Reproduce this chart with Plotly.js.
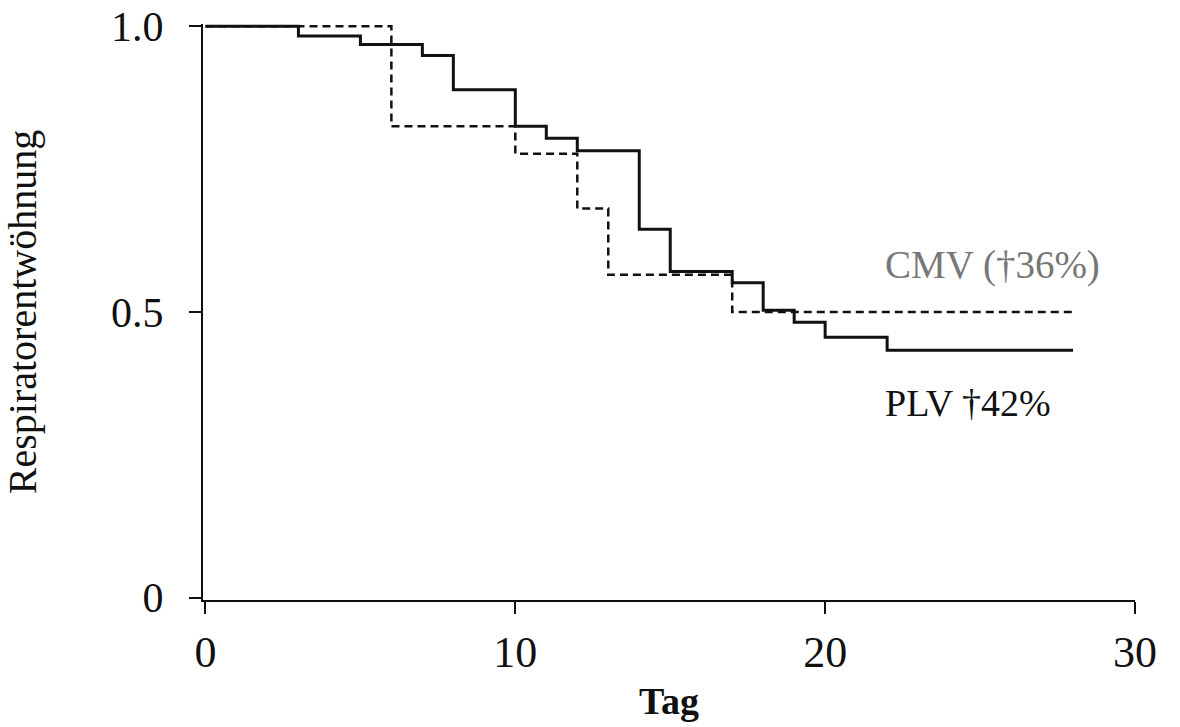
<!DOCTYPE html>
<html>
<head>
<meta charset="utf-8">
<script src="https://cdn.plot.ly/plotly-3.0.1.min.js"></script>
<style>
  html, body { margin: 0; padding: 0; background: #fff; }
  #chart { width: 1180px; height: 727px; }
</style>
</head>
<body>
<div id="chart"></div>
<script>
// Kaplan-Meier style weaning curves (fraction still ventilated over days)
const plvDays = [0, 3, 5, 7, 8, 10, 11, 12, 14, 15, 17, 18, 19, 20, 22, 28];
const plvSurv = [1.0, 0.983, 0.968, 0.949, 0.889, 0.825, 0.804, 0.782, 0.645, 0.571, 0.551, 0.503, 0.482, 0.456, 0.433, 0.433];

const cmvDays = [0, 6, 10, 12, 13, 17, 28];
const cmvSurv = [1.0, 0.825, 0.777, 0.681, 0.565, 0.5, 0.5];

const xTickVals = [0, 10, 20, 30];
const xTickText = ['0', '10', '20', '30'];
const yTickVals = [0, 0.5, 1.0];
const yTickText = ['0', '0.5', '1.0'];

const cmvLabel = 'CMV (†36%)';
const plvLabel = 'PLV †42%';

const serif = '"Liberation Serif", "Times New Roman", serif';

const traces = [
  {
    x: cmvDays, y: cmvSurv, type: 'scatter', mode: 'lines', name: 'CMV',
    line: { shape: 'hv', color: '#111', width: 2.5, dash: '8px,5px' }
  },
  {
    x: plvDays, y: plvSurv, type: 'scatter', mode: 'lines', name: 'PLV',
    line: { shape: 'hv', color: '#111', width: 3 }
  }
];

const layout = {
  width: 1180, height: 727,
  margin: { l: 203, r: 45, t: 24, b: 127 },
  paper_bgcolor: '#fff', plot_bgcolor: '#fff',
  showlegend: false,
  font: { family: serif, color: '#111', size: 40 },
  xaxis: {
    range: [-0.08, 30], tickvals: xTickVals, ticktext: xTickText,
    showgrid: false, zeroline: false, showline: true, linecolor: '#111', linewidth: 2,
    ticks: 'outside', ticklen: 12, tickwidth: 2, tickcolor: '#111',
    tickfont: { family: serif, size: 44, color: '#111' },
    title: { text: '<b>Tag</b>', font: { family: serif, size: 38, color: '#111' }, standoff: 12 },
    automargin: false
  },
  yaxis: {
    range: [-0.004, 1.004], tickvals: yTickVals, ticktext: yTickText,
    showgrid: false, zeroline: false, showline: true, linecolor: '#111', linewidth: 2,
    ticks: 'outside', ticklen: 12, tickwidth: 2, tickcolor: '#111',
    ticklabelstandoff: 17,
    tickfont: { family: serif, size: 42, color: '#111' },
    title: { text: 'Respiratorentwöhnung', font: { family: serif, size: 40, color: '#111' }, standoff: 63 },
    automargin: false
  },
  annotations: [
    {
      x: 21.87, y: 0.582, xref: 'x', yref: 'y', text: cmvLabel, showarrow: false,
      xanchor: 'left', yanchor: 'middle',
      font: { family: serif, size: 39, color: '#777' }
    },
    {
      x: 21.87, y: 0.341, xref: 'x', yref: 'y', text: plvLabel, showarrow: false,
      xanchor: 'left', yanchor: 'middle',
      font: { family: serif, size: 38, color: '#111' }
    }
  ]
};

Plotly.newPlot('chart', traces, layout, { displayModeBar: false, staticPlot: true });
</script>
</body>
</html>
